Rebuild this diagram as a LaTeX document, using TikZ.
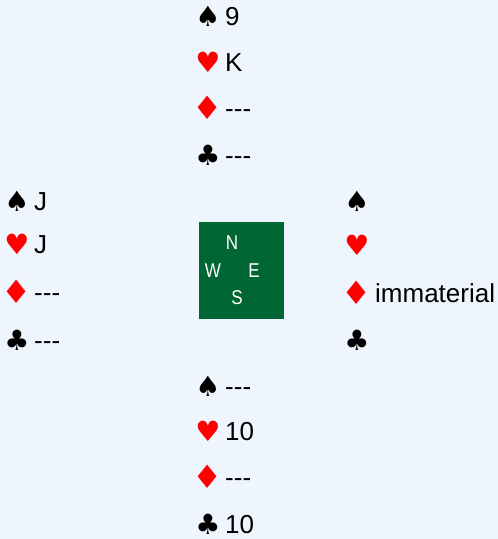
\documentclass[tikz,border=0pt]{standalone}
\usepackage{fontspec}
\setmainfont{Liberation Sans}
\newfontfamily\suitfont{DejaVu Sans}
\usepackage{xcolor}
\usetikzlibrary{positioning}
\definecolor{bgblue}{RGB}{239,245,252}
\definecolor{tablegreen}{RGB}{0,102,51}
\newcommand{\nocards}{-\kern0pt-\kern0pt-}

\begin{document}
\begin{tikzpicture}[x=1pt,y=-1pt,
    suit/.style={inner sep=0pt,font=\suitfont\fontsize{28}{28}\selectfont},
    blacksuit/.style={suit,text=black},
    redsuit/.style={suit,text=red},
    wide/.style={xscale=1.2,yscale=1.15},
    card/.style={inner sep=0pt,font=\fontsize{26}{26}\selectfont},
    compass/.style={inner sep=0pt,text=white,xscale=0.85,
      font=\fontsize{20}{20}\selectfont}]
    % --- background ---
    \fill[bgblue] (0,0) rectangle (498,539);
    \useasboundingbox (0,0) rectangle (498,539);
    % --- North ---
    \node[blacksuit] (ns) at (208,16) {♠};
    \node[redsuit]   (nh) at (208,62) {♥};
    \node[redsuit,wide] (nd) at (208,108) {♦};
    \node[blacksuit] (nc) at (208,155) {♣};
    \node[card, right=17pt of ns.center, anchor=base west, yshift=-9pt] (nst) {9};
    \node[card, right=17pt of nh.center, anchor=base west, yshift=-9pt] (nht) {K};
    \node[card, right=17pt of nd.center, anchor=base west, yshift=-9pt] (ndt) {\nocards};
    \node[card, right=17pt of nc.center, anchor=base west, yshift=-9pt] (nct) {\nocards};
    % --- West ---
    \node[blacksuit] (ws) at (17,201) {♠};
    \node[redsuit]   (wh) at (17,244) {♥};
    \node[redsuit,wide] (wd) at (17,292) {♦};
    \node[blacksuit] (wc) at (17,340) {♣};
    \node[card, right=17pt of ws.center, anchor=base west, yshift=-9pt] (wst) {J};
    \node[card, right=17pt of wh.center, anchor=base west, yshift=-9pt] (wht) {J};
    \node[card, right=17pt of wd.center, anchor=base west, yshift=-9pt] (wdt) {\nocards};
    \node[card, right=17pt of wc.center, anchor=base west, yshift=-9pt] (wct) {\nocards};
    % --- East ---
    \node[blacksuit] (es) at (357,201) {♠};
    \node[redsuit]   (eh) at (357,245) {♥};
    \node[redsuit,wide] (ed) at (357,293) {♦};
    \node[blacksuit] (ec) at (357,340) {♣};
    \node[card, right=18pt of ed.center, anchor=base west, yshift=-9pt] (edt) {immaterial};
    % --- South ---
    \node[blacksuit] (ss) at (208,386) {♠};
    \node[redsuit]   (sh) at (208,431) {♥};
    \node[redsuit,wide] (sd) at (208,477) {♦};
    \node[blacksuit] (sc) at (208,524) {♣};
    \node[card, right=17pt of ss.center, anchor=base west, yshift=-9pt] (sst) {\nocards};
    \node[card, right=17pt of sh.center, anchor=base west, yshift=-9pt] (sht) {10};
    \node[card, right=17pt of sd.center, anchor=base west, yshift=-9pt] (sdt) {\nocards};
    \node[card, right=17pt of sc.center, anchor=base west, yshift=-9pt] (sct) {10};
    % --- table ---
    \fill[tablegreen] (199,222) rectangle (284,319);
    \node[compass] (cn) at (232,243) {N};
    \node[compass] (cw) at (213,271) {W};
    \node[compass] (ce) at (254,271) {E};
    \node[compass] (cs) at (237,298) {S};
\end{tikzpicture}
\end{document}
